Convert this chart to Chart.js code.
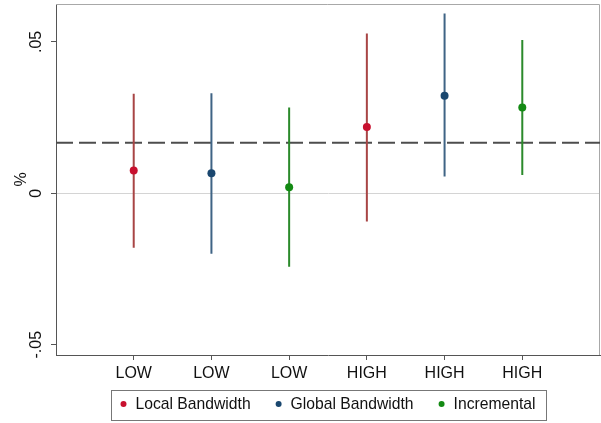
<!DOCTYPE html>
<html>
<head>
<meta charset="utf-8">
<script src="https://cdn.jsdelivr.net/npm/chart.js@4/dist/chart.umd.min.js"></script>
<style>
  body { margin: 0; background: #fff; }
  canvas { display: block; }
</style>
</head>
<body>
<canvas id="ciChart" width="601" height="423"></canvas>
<script>
// values
var xLabels = ['LOW', 'LOW', 'LOW', 'HIGH', 'HIGH', 'HIGH'];
var yTicks = [-0.05, 0, 0.05];
var yTickLabels = ['-.05', '0', '.05'];

var localX = [1, 4];
var localEst = [0.0075, 0.0219];
var localLo = [-0.0180, -0.0093];
var localHi = [0.0329, 0.0528];

var globalX = [2, 5];
var globalEst = [0.0066, 0.0322];
var globalLo = [-0.0200, 0.0055];
var globalHi = [0.0330, 0.0594];

var incrX = [3, 6];
var incrEst = [0.0020, 0.0283];
var incrLo = [-0.0243, 0.0060];
var incrHi = [0.0283, 0.0506];

var refLine = 0.0167;

var seriesNames = ['Local Bandwidth', 'Global Bandwidth', 'Incremental'];
var dotColors = ['#c8102e', '#1a476f', '#138a13'];
var barColors = ['#a84545', '#3f6485', '#2b8a2b'];

function pts(xs, ys) {
    var out = [];
    for (var i = 0; i < xs.length; i++) out.push({x: xs[i], y: ys[i]});
    return out;
}
// one segment per estimate, null y breaks the line
function ciPts(xs, lo, hi) {
    var out = [];
    for (var i = 0; i < xs.length; i++) {
        out.push({x: xs[i], y: lo[i]});
        out.push({x: xs[i], y: hi[i]});
        out.push({x: xs[i], y: null});
    }
    return out;
}

var xAll = [localX, globalX, incrX];
var estAll = [localEst, globalEst, incrEst];
var loAll = [localLo, globalLo, incrLo];
var hiAll = [localHi, globalHi, incrHi];

var datasets = [];
datasets.push({
    type: 'line',
    data: [{x: 0, y: refLine}, {x: 7, y: refLine}],
    borderColor: '#4d4d4d',
    borderWidth: 2,
    borderDash: [17, 6],
    pointRadius: 0,
    order: 5
});
for (var s = 0; s < 3; s++) {
    datasets.push({
        type: 'line',
        data: ciPts(xAll[s], loAll[s], hiAll[s]),
        borderColor: barColors[s],
        borderWidth: 2,
        pointRadius: 0,
        spanGaps: false,
        order: 3
    });
}
for (var s = 0; s < 3; s++) {
    datasets.push({
        type: 'scatter',
        label: seriesNames[s],
        data: pts(xAll[s], estAll[s]),
        backgroundColor: dotColors[s],
        borderWidth: 0,
        pointRadius: 4,
        order: 1
    });
}

var FONT = '"Liberation Sans", Arial, sans-serif';

// top and right sides of the plot box
var framePlugin = {
    id: 'frame',
    beforeDatasetsDraw: function (chart) {
        var a = chart.chartArea, c = chart.ctx;
        c.save();
        c.strokeStyle = '#a8a8a8';
        c.lineWidth = 1;
        c.beginPath();
        c.moveTo(a.left, a.top + 0.5);
        c.lineTo(a.right - 0.5, a.top + 0.5);
        c.lineTo(a.right - 0.5, a.bottom);
        c.stroke();
        c.restore();
    }
};

// boxed legend under the axis, Stata style
var legendPlugin = {
    id: 'boxLegend',
    afterDraw: function (chart) {
        var c = chart.ctx, a = chart.chartArea;
        c.save();
        c.font = '15.7px ' + FONT;
        var dotGap = 12, itemGap = 28, padL = 9, padR = 12;
        var total = 0, widths = [];
        for (var i = 0; i < seriesNames.length; i++) {
            var w = c.measureText(seriesNames[i]).width;
            widths.push(w);
            total += dotGap + w + (i < seriesNames.length - 1 ? itemGap : 0);
        }
        var boxW = Math.round(total + padL + padR + 2);
        var cx = (a.left + a.right) / 2;
        var left = Math.round(cx - boxW / 2) + 0.5;
        var top = 390.5, h = 30, mid = 405;
        c.strokeStyle = '#777777';
        c.lineWidth = 1;
        c.strokeRect(left, top, boxW, h);
        var x = left + padL + 3;
        c.textBaseline = 'middle';
        c.textAlign = 'left';
        for (var i = 0; i < seriesNames.length; i++) {
            c.fillStyle = dotColors[i];
            c.beginPath();
            c.arc(x, mid - 1, 3, 0, Math.PI * 2);
            c.fill();
            c.fillStyle = '#111111';
            c.fillText(seriesNames[i], x + dotGap, mid);
            x += dotGap + widths[i] + itemGap;
        }
        c.restore();
    }
};

new Chart(document.getElementById('ciChart'), {
    type: 'scatter',
    data: {datasets: datasets},
    options: {
        responsive: false,
        animation: false,
        layout: {autoPadding: false, padding: {top: 4, right: 1, left: 0, bottom: 0}},
        plugins: {
            legend: {display: false},
            tooltip: {enabled: false}
        },
        scales: {
            x: {
                type: 'linear',
                min: 0,
                max: 7,
                afterBuildTicks: function (scale) {
                    scale.ticks = xLabels.map(function (l, i) { return {value: i + 1}; });
                },
                afterFit: function (scale) {
                    scale.height = 68;
                    scale.paddingLeft = 0;
                    scale.paddingRight = 0;
                },
                ticks: {
                    font: {family: FONT, size: 16},
                    color: '#111111',
                    padding: 4,
                    maxRotation: 0,
                    callback: function (v) { return xLabels[v - 1]; }
                },
                grid: {
                    color: 'rgba(0,0,0,0)',
                    tickColor: '#555555',
                    tickLength: 5
                },
                border: {color: '#555555', width: 1}
            },
            y: {
                type: 'linear',
                min: -0.0534,
                max: 0.0625,
                afterBuildTicks: function (scale) {
                    scale.ticks = yTicks.map(function (v) { return {value: v}; });
                },
                afterFit: function (scale) {
                    scale.width = 56;
                    scale.paddingTop = 0;
                    scale.paddingBottom = 0;
                },
                ticks: {
                    font: {family: FONT, size: 16},
                    color: '#111111',
                    minRotation: 90,
                    maxRotation: 90,
                    crossAlign: 'center',
                    padding: 1,
                    callback: function (v) { return yTickLabels[yTicks.indexOf(v)]; }
                },
                title: {
                    display: true,
                    text: '%',
                    font: {family: FONT, size: 16},
                    color: '#111111',
                    padding: {top: 12, bottom: 0}
                },
                grid: {
                    color: function (ctx) { return ctx.tick && ctx.tick.value === 0 ? '#d4d4d4' : 'rgba(0,0,0,0)'; },
                    tickColor: '#555555',
                    tickLength: 5
                },
                border: {color: '#555555', width: 1}
            }
        }
    },
    plugins: [framePlugin, legendPlugin]
});
</script>
</body>
</html>
